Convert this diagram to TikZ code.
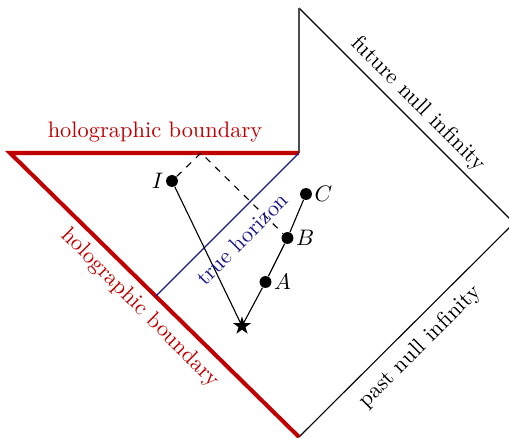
\documentclass[tikz,border=0pt]{standalone}
\usetikzlibrary{shapes.geometric}
\definecolor{hred}{RGB}{192,0,0}
\definecolor{hblue}{RGB}{25,25,140}
\begin{document}
\begin{tikzpicture}[x=0.446pt,y=-0.446pt,
  dot/.style={circle,fill=black,inner sep=0pt,minimum size=5.3pt},
  starnode/.style={star,star points=5,star point ratio=2.6,fill=black,inner sep=0pt,minimum size=8.5pt},
  holo/.style={draw=hred,line width=1.8pt},
  thinline/.style={draw=black,line width=0.5pt},
  lbl/.style={inner sep=0.8pt}]
\useasboundingbox (0,0) rectangle (509,438);
\begin{scope}
\clip (0,0) rectangle (509,438);
\coordinate (top) at (299,8);
\coordinate (corner) at (514,223);
\coordinate (bot) at (299,437);
\coordinate (hr) at (299,153);
\coordinate (hl) at (10,153);
\coordinate (hz) at (155.8,296.2);
\coordinate (apex) at (201,153);
% outer boundary
\draw[thinline] (top) -- (corner) -- (bot);
\draw[black!70,line width=0.6pt] (top) -- (hr);
\draw[holo,line join=miter] (hr) -- (hl) -- (bot);
% horizon
\draw[hblue,line width=0.5pt] (hr) -- (hz);
% points
\node[dot,label={[lbl]left:$I$}] (I) at (172,181) {};
\node[dot,label={[lbl]right:$C$}] (C) at (306,194) {};
\node[dot,label={[lbl]right:$B$}] (B) at (287.5,238) {};
\node[dot,label={[lbl]right:$A$}] (A) at (265.5,282) {};
\node[starnode] (S) at (242,326) {};
\draw[thinline] (I) -- (S.center) -- (A) -- (B) -- (C);
\draw[thinline,dashed] (I) -- (apex) -- (B);
% labels
\node[hred] (holotop) at (155,132) {holographic boundary};
\node[hred,rotate=-45] (holoside) at (140,308) {holographic boundary};
\node[hblue,rotate=45] (horizon) at (242,239) {true horizon};
\node[rotate=-45] (fni) at (418,104) {future null infinity};
\node[rotate=45] (pni) at (420,347) {past null infinity};
\end{scope}
\end{tikzpicture}
\end{document}
